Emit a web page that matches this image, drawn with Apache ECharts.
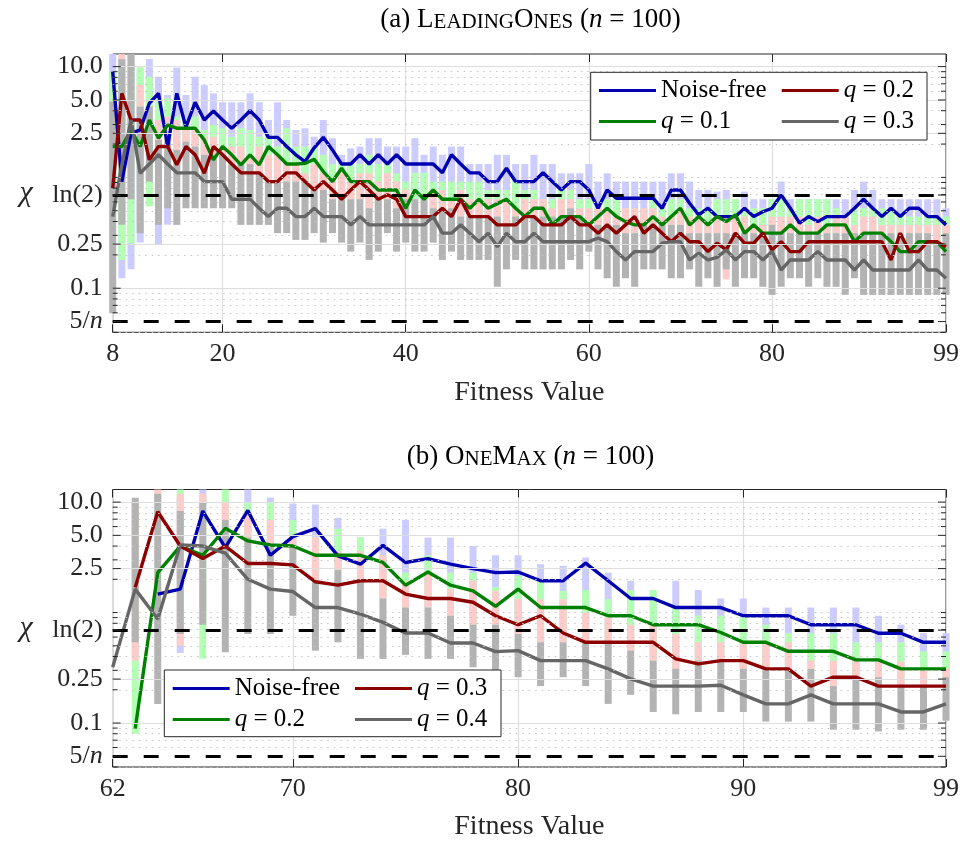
<!DOCTYPE html>
<html>
<head>
<meta charset="utf-8">
<script src="https://cdn.jsdelivr.net/npm/echarts@6/dist/echarts.min.js"></script>
<style>
  html, body { margin: 0; padding: 0; background: #fff; }
  #chart-container { width: 962px; height: 842px; }
</style>
</head>
<body>
<div id="chart-container"></div>
<script>
var dom = document.getElementById('chart-container');
var myChart = echarts.init(dom, null, { renderer: 'canvas', useDirtyRect: false });

var FONT = 'Liberation Serif';
var INK = '#262626';

// ---------- (a) LeadingOnes, n = 100 ----------
var fitA = [8, 9, 10, 11, 12, 13, 14, 15, 16, 17,
  18, 19, 20, 21, 22, 23, 24, 25, 26, 27,
  28, 29, 30, 31, 32, 33, 34, 35, 36, 37,
  38, 39, 40, 41, 42, 43, 44, 45, 46, 47,
  48, 49, 50, 51, 52, 53, 54, 55, 56, 57,
  58, 59, 60, 61, 62, 63, 64, 65, 66, 67,
  68, 69, 70, 71, 72, 73, 74, 75, 76, 77,
  78, 79, 80, 81, 82, 83, 84, 85, 86, 87,
  88, 89, 90, 91, 92, 93, 94, 95, 96, 97,
  98, 99];

// median chi per fitness value
var nfA = [9.0, 0.917, 2.5, 2.69, 4.67, 5.74, 1.9, 5.74, 2.84, 4.77,
  3.3, 3.98, 3.3, 2.78, 3.3, 4.0, 3.3, 2.3, 2.3, 1.9,
  1.6, 1.39, 1.85, 2.3, 1.77, 1.32, 1.32, 1.6, 1.32, 1.6,
  1.32, 1.6, 1.32, 1.32, 1.32, 1.32, 1.1, 1.6, 1.32, 1.1,
  1.1, 0.917, 0.917, 1.21, 0.917, 0.917, 0.917, 1.1, 0.917, 0.771,
  0.917, 0.917, 0.771, 0.527, 0.771, 0.649, 0.649, 0.649, 0.649, 0.649,
  0.527, 0.771, 0.771, 0.585, 0.459, 0.527, 0.443, 0.443, 0.443, 0.527,
  0.443, 0.49, 0.527, 0.695, 0.527, 0.386, 0.443, 0.399, 0.443, 0.443,
  0.443, 0.527, 0.636, 0.527, 0.443, 0.527, 0.443, 0.527, 0.527, 0.443,
  0.443, 0.373];
var q1A = [1.9, 1.9, 2.68, 1.9, 3.3, 2.26, 2.97, 2.78, 2.78, 2.78,
  2.18, 1.44, 1.9, 1.6, 1.3, 1.6, 1.3, 1.9, 1.6, 1.32,
  1.32, 1.34, 1.46, 1.13, 0.917, 1.21, 0.917, 0.917, 0.917, 0.771,
  0.771, 0.771, 0.527, 0.771, 0.636, 0.771, 0.636, 0.636, 0.636, 0.527,
  0.636, 0.527, 0.58, 0.636, 0.527, 0.443, 0.527, 0.527, 0.373, 0.443,
  0.443, 0.443, 0.373, 0.443, 0.527, 0.443, 0.399, 0.373, 0.373, 0.443,
  0.373, 0.443, 0.527, 0.373, 0.443, 0.373, 0.443, 0.399, 0.459, 0.314,
  0.373, 0.314, 0.314, 0.314, 0.373, 0.314, 0.314, 0.314, 0.373, 0.373,
  0.373, 0.263, 0.314, 0.314, 0.314, 0.263, 0.214, 0.214, 0.263, 0.263,
  0.263, 0.214];
var q2A = [0.798, 5.74, 3.3, 3.3, 1.44, 1.9, 1.9, 1.3, 1.9, 1.6,
  1.09, 1.9, 1.6, 1.32, 1.1, 1.1, 1.1, 0.917, 0.917, 1.1,
  1.1, 0.917, 0.771, 0.917, 0.771, 0.636, 0.771, 0.917, 0.771, 0.636,
  0.697, 0.636, 0.443, 0.443, 0.443, 0.443, 0.527, 0.443, 0.636, 0.443,
  0.443, 0.443, 0.373, 0.373, 0.373, 0.443, 0.443, 0.373, 0.373, 0.373,
  0.443, 0.373, 0.373, 0.314, 0.373, 0.314, 0.373, 0.443, 0.314, 0.373,
  0.314, 0.263, 0.314, 0.263, 0.263, 0.214, 0.255, 0.222, 0.314, 0.255,
  0.255, 0.314, 0.222, 0.263, 0.214, 0.214, 0.263, 0.263, 0.263, 0.263,
  0.263, 0.263, 0.263, 0.263, 0.263, 0.18, 0.314, 0.214, 0.214, 0.263,
  0.263, 0.237];
var q3A = [0.443, 1.3, 3.3, 1.09, 1.32, 1.6, 1.32, 1.1, 1.1, 1.1,
  0.917, 0.917, 0.917, 0.636, 0.636, 0.636, 0.527, 0.443, 0.527, 0.527,
  0.443, 0.443, 0.527, 0.443, 0.443, 0.443, 0.373, 0.443, 0.373, 0.373,
  0.373, 0.373, 0.373, 0.373, 0.373, 0.443, 0.314, 0.314, 0.373, 0.314,
  0.263, 0.314, 0.237, 0.314, 0.263, 0.263, 0.314, 0.263, 0.263, 0.263,
  0.263, 0.263, 0.263, 0.283, 0.263, 0.214, 0.18, 0.214, 0.214, 0.214,
  0.255, 0.263, 0.263, 0.18, 0.207, 0.18, 0.19, 0.222, 0.18, 0.214,
  0.214, 0.18, 0.214, 0.146, 0.18, 0.18, 0.18, 0.214, 0.18, 0.18,
  0.18, 0.146, 0.18, 0.146, 0.146, 0.146, 0.146, 0.146, 0.18, 0.146,
  0.146, 0.123];

// upper ends of the spread bars
var nfHiA = [14, 12, 12, 9, 11.7, 8.1, 5.55, 9.8, 5.55, 8.1,
  6.82, 5.74, 4.77, 4.77, 4.77, 5.74, 4.77, 3.3, 4.77, 3.3,
  2.68, 2.78, 2.33, 3.3, 2.26, 1.6, 1.83, 1.9, 2.26, 2.26,
  1.9, 1.9, 1.9, 2.26, 1.6, 1.9, 1.6, 1.9, 1.9, 1.32,
  1.32, 1.32, 1.6, 1.6, 1.32, 1.32, 1.6, 1.32, 1.32, 1.09,
  1.09, 1.09, 1.32, 0.917, 1.09, 0.917, 0.917, 0.917, 0.917, 0.917,
  0.917, 1.09, 1.09, 0.917, 0.771, 0.771, 0.745, 0.771, 0.636, 0.745,
  0.636, 0.636, 0.636, 0.917, 0.636, 0.636, 0.636, 0.636, 0.636, 0.636,
  0.636, 0.771, 0.917, 0.771, 0.636, 0.636, 0.636, 0.636, 0.636, 0.636,
  0.636, 0.527];
var q1HiA = [9.0, 10, 10, 9.86, 8.1, 5.18, 5.18, 3.54, 3.3, 3.54,
  2.68, 2.97, 2.78, 2.33, 2.78, 2.68, 2.33, 2.33, 1.9, 2.78,
  1.9, 1.9, 1.9, 1.6, 1.32, 1.32, 1.32, 1.32, 1.6, 1.32,
  1.32, 1.09, 0.917, 1.1, 1.1, 0.917, 0.917, 0.917, 0.917, 0.917,
  0.917, 0.771, 0.771, 0.771, 0.917, 0.771, 0.771, 0.636, 0.636, 0.771,
  0.771, 0.636, 0.636, 0.527, 0.636, 0.636, 0.527, 0.527, 0.527, 0.636,
  0.527, 0.636, 0.636, 0.527, 0.527, 0.527, 0.636, 0.636, 0.636, 0.527,
  0.527, 0.527, 0.636, 0.636, 0.527, 0.636, 0.636, 0.636, 0.636, 0.527,
  0.443, 0.527, 0.527, 0.527, 0.527, 0.527, 0.443, 0.443, 0.443, 0.443,
  0.443, 0.443];
var q2HiA = [4.5, 14, 12, 6.82, 4.35, 3.3, 3.54, 3.3, 2.68, 2.78,
  2.33, 2.33, 1.9, 1.9, 1.9, 1.6, 1.9, 1.6, 1.6, 1.32,
  1.32, 1.09, 1.32, 1.1, 0.917, 1.1, 0.917, 1.09, 1.09, 0.917,
  1.09, 0.917, 0.771, 0.636, 0.636, 0.771, 0.771, 0.636, 0.771, 0.636,
  0.636, 0.636, 0.636, 0.636, 0.527, 0.636, 0.636, 0.636, 0.527, 0.636,
  0.636, 0.527, 0.527, 0.527, 0.527, 0.443, 0.527, 0.527, 0.527, 0.527,
  0.443, 0.443, 0.527, 0.443, 0.443, 0.373, 0.443, 0.443, 0.443, 0.443,
  0.373, 0.373, 0.443, 0.443, 0.443, 0.443, 0.373, 0.443, 0.373, 0.443,
  0.443, 0.373, 0.443, 0.443, 0.373, 0.373, 0.373, 0.373, 0.373, 0.373,
  0.373, 0.373];
var q3HiA = [4.84, 11.66, 14, 4.35, 4.35, 2.18, 2.1, 1.77, 2.1, 1.9,
  1.6, 1.6, 1.6, 1.32, 1.32, 1.32, 1.1, 0.917, 0.917, 0.917,
  0.917, 0.917, 0.771, 0.771, 0.636, 0.636, 0.636, 0.636, 0.527, 0.636,
  0.636, 0.527, 0.636, 0.636, 0.636, 0.527, 0.527, 0.527, 0.443, 0.443,
  0.443, 0.443, 0.443, 0.373, 0.443, 0.443, 0.443, 0.443, 0.443, 0.443,
  0.527, 0.443, 0.373, 0.373, 0.373, 0.373, 0.314, 0.314, 0.373, 0.373,
  0.373, 0.373, 0.373, 0.314, 0.314, 0.314, 0.314, 0.314, 0.314, 0.314,
  0.314, 0.314, 0.373, 0.314, 0.314, 0.314, 0.314, 0.314, 0.314, 0.314,
  0.314, 0.314, 0.314, 0.314, 0.314, 0.314, 0.314, 0.314, 0.314, 0.314,
  0.263, 0.314];
var q3LoA = [0.0594, 0.373, 0.636, 0.314, 0.917, 0.373, 0.527, 0.373, 0.527, 0.527,
  0.527, 0.527, 0.527, 0.527, 0.373, 0.373, 0.373, 0.373, 0.314, 0.314,
  0.273, 0.273, 0.314, 0.258, 0.314, 0.258, 0.214, 0.258, 0.18, 0.214,
  0.314, 0.214, 0.258, 0.214, 0.214, 0.258, 0.18, 0.214, 0.18, 0.18,
  0.18, 0.18, 0.103, 0.148, 0.18, 0.148, 0.148, 0.148, 0.148, 0.148,
  0.18, 0.148, 0.214, 0.148, 0.123, 0.103, 0.123, 0.103, 0.148, 0.148,
  0.148, 0.123, 0.123, 0.148, 0.103, 0.123, 0.103, 0.148, 0.103, 0.123,
  0.123, 0.103, 0.087, 0.103, 0.123, 0.123, 0.103, 0.123, 0.103, 0.103,
  0.087, 0.123, 0.087, 0.087, 0.087, 0.087, 0.087, 0.087, 0.087, 0.087,
  0.087, 0.087];
// lower ends that show below the grey bar (keyed by fitness value);
// everywhere else the lower end is hidden under the grey bar
var nfLoA = { 9: 0.123, 10: 0.148, 11: 0.258, 13: 0.246, 14: 0.373 };
var q1LoA = { 9: 0.18, 10: 0.254, 12: 0.545 };
var q2LoA = { 75: 0.12 };

// ---------- (b) OneMax, n = 100 ----------
var fitB = [62, 63, 64, 65, 66, 67, 68, 69, 70, 71,
  72, 73, 74, 75, 76, 77, 78, 79, 80, 81,
  82, 83, 84, 85, 86, 87, 88, 89, 90, 91,
  92, 93, 94, 95, 96, 97, 98, 99];
var nfB = [null, null, 1.47, 1.63, 8.3, 3.87, 8.4, 3.3, 4.87, 5.75,
  3.26, 2.74, 4.06, 2.84, 3.08, 2.74, 2.5, 2.3, 2.33, 1.94,
  1.94, 2.8, 1.94, 1.34, 1.34, 1.11, 1.11, 1.11, 0.936, 0.936,
  0.936, 0.776, 0.776, 0.776, 0.65, 0.65, 0.538, 0.538];
var q2B = [null, 0.089, 2.3, 4.0, 3.3, 5.8, 4.45, 4.09, 4.0, 3.3,
  3.3, 3.3, 2.84, 1.77, 2.33, 1.77, 1.57, 1.14, 1.63, 1.11,
  1.11, 1.11, 0.936, 0.936, 0.776, 0.776, 0.776, 0.66, 0.538, 0.538,
  0.446, 0.446, 0.446, 0.373, 0.373, 0.309, 0.309, 0.309];
var q3B = [null, 1.69, 8.18, 4.0, 3.08, 4.0, 2.78, 2.78, 2.7, 1.9,
  1.77, 1.94, 1.94, 1.47, 1.34, 1.34, 1.24, 0.936, 0.776, 0.936,
  0.653, 0.538, 0.538, 0.538, 0.538, 0.381, 0.343, 0.367, 0.367, 0.309,
  0.309, 0.216, 0.26, 0.26, 0.216, 0.216, 0.216, 0.216];
var q4B = [0.32, 1.63, 0.874, 4.09, 4.0, 3.45, 2.0, 1.63, 1.55, 1.11,
  1.11, 0.97, 0.815, 0.653, 0.653, 0.53, 0.53, 0.443, 0.452, 0.367,
  0.367, 0.367, 0.309, 0.251, 0.216, 0.216, 0.216, 0.22, 0.18, 0.149,
  0.149, 0.18, 0.149, 0.149, 0.149, 0.126, 0.126, 0.149];

var nfHiB = [null, null, 10, 11, 14, 11, 14, 11, 9.7, 9.5,
  7.2, 4.8, 5.75, 6.9, 4.77, 4.77, 4.0, 3.3, 3.3, 2.74,
  2.65, 3.15, 2.3, 1.94, 1.5, 1.94, 1.6, 1.34, 1.34, 1.11,
  1.11, 1.11, 1.11, 1.11, 0.936, 0.776, 0.65, 0.65];
var q2HiB = [null, 10, 11, 14, 11, 14, 9.86, 9.86, 6.9, 4.8,
  5.75, 4.8, 3.3, 2.3, 3.3, 2.3, 2.3, 1.7, 2.15, 1.94,
  1.57, 1.6, 1.32, 1.6, 1.6, 1.09, 0.94, 0.936, 0.9, 0.776,
  0.65, 0.65, 0.65, 0.538, 0.538, 0.538, 0.446, 0.446];
var q3HiB = [null, 10, 14, 11.9, 11.9, 9.86, 8.1, 6.9, 4.77, 4.8,
  3.6, 3.6, 3.3, 1.9, 2.33, 1.63, 1.94, 1.57, 1.32, 1.32,
  1.32, 1.0, 0.9, 0.776, 0.776, 0.64, 0.538, 0.538, 0.52, 0.52,
  0.538, 0.367, 0.367, 0.367, 0.36, 0.36, 0.3, 0.309];
var q4HiB = [null, 10.96, 11.9, 8.3, 9.86, 6.9, 4.77, 4.0, 4.0, 1.88,
  2.43, 2.0, 1.34, 1.11, 1.11, 0.936, 0.776, 0.776, 0.64, 0.538,
  0.538, 0.538, 0.538, 0.452, 0.367, 0.31, 0.367, 0.367, 0.309, 0.3,
  0.3, 0.309, 0.216, 0.25, 0.26, 0.216, 0.216, 0.26];
var q4LoB = [null, 0.538, 0.149, 0.64, 0.776, 0.437, 0.64, 0.64, 0.936, 0.452,
  0.538, 0.381, 0.381, 0.414, 0.381, 0.381, 0.32, 0.27, 0.26, 0.216,
  0.26, 0.216, 0.149, 0.18, 0.126, 0.12, 0.126, 0.126, 0.126, 0.103,
  0.103, 0.103, 0.087, 0.087, 0.084, 0.087, 0.087, 0.105];
var nfLoB = { 65: 0.43 };
var q2LoB = { 63: 0.08, 66: 0.381 };
var q3LoB = { 63: 0.367, 65: 0.5 };

// ---------- axes ----------
var yTickVals = [0.05, 0.1, 0.25, Math.LN2, 2.5, 5, 10];
var yGridVals = [0.1, 0.25, 2.5, 5, 10];
var yGridText = ['0.1', '0.25', '2.5', '5.0', '10.0'];
var yMinorVals = [0.04, 0.06, 0.07, 0.08, 0.09, 0.2, 0.3, 0.4, 0.5, 0.6, 0.7, 0.8, 0.9, 1, 2, 3, 4, 6, 7, 8, 9];
var xTicksA = [8, 20, 40, 60, 80, 99];
var xTicksB = [62, 70, 80, 90, 99];

var LINE_COLORS = ['#0000b0', '#008000', '#8c0000', '#666666'];
var BAR_COLORS = ['#ccccff', '#b3ffb3', '#ffcccc', '#b3b3b3'];
var BAR_W = 7;

function linePts(xs, ys) {
  var out = [];
  xs.forEach(function (x, i) { if (ys[i] != null) out.push([x, ys[i]]); });
  return out;
}
function rangePts(xs, hi, loVisible, under) {
  var out = [];
  xs.forEach(function (x, i) {
    if (hi[i] == null) return;
    var lo = loVisible && loVisible[x] != null ? loVisible[x] : under[i];
    out.push([x, lo, hi[i]]);
  });
  return out;
}

function renderRange(params, api) {
  var cs = params.coordSys;
  var p1 = api.coord([api.value(0), api.value(1)]);
  var p2 = api.coord([api.value(0), api.value(2)]);
  var top = Math.max(Math.min(p1[1], p2[1]), cs.y);
  var bot = Math.min(Math.max(p1[1], p2[1]), cs.y + cs.height);
  if (bot <= top) return;
  return {
    type: 'rect',
    shape: { x: p1[0] - BAR_W / 2, y: top, width: BAR_W, height: bot - top },
    style: { fill: api.visual('color') }
  };
}
function renderTicks(params, api) {
  var cs = params.coordSys;
  var y = api.coord([api.value(0), api.value(1)])[1];
  var len = api.value(2);
  var st = { stroke: INK, lineWidth: 1 };
  return {
    type: 'group',
    children: [
      { type: 'line', shape: { x1: cs.x, y1: y, x2: cs.x + len, y2: y }, style: st },
      { type: 'line', shape: { x1: cs.x + cs.width - len, y1: y, x2: cs.x + cs.width, y2: y }, style: st }
    ]
  };
}

function panelSeries(g, xs, lines, his, los, grayLo, names) {
  var xi = g * 2, yi = g;
  var s = [];
  var gridLines = [];
  yGridVals.forEach(function (v, i) {
    gridLines.push({
      yAxis: v,
      lineStyle: { color: '#dedede', width: 1.2, type: 'solid' },
      label: { show: true, formatter: yGridText[i] }
    });
  });
  yMinorVals.forEach(function (v) {
    gridLines.push({ yAxis: v, lineStyle: { color: '#c4c4c4', width: 1, type: [1.5, 5] }, label: { show: false } });
  });
  s.push({
    type: 'line', name: 'grid' + g, xAxisIndex: xi, yAxisIndex: yi, data: [], z: 1, silent: true,
    markLine: {
      silent: true, symbol: ['none', 'none'], animation: false,
      label: { position: 'start', distance: 10, fontFamily: FONT, fontSize: 26, color: INK },
      data: gridLines
    }
  });
  var grayHi = his[3];
  for (var k = 0; k < 4; k++) {
    s.push({
      type: 'custom', name: 'spread' + g + k, xAxisIndex: xi, yAxisIndex: yi, z: 2, silent: true,
      color: BAR_COLORS[k],
      renderItem: renderRange,
      encode: { x: 0, y: [1, 2] },
      data: k < 3 ? rangePts(xs, his[k], los[k], grayHi) : rangePts(xs, grayHi, null, grayLo)
    });
  }
  s.push({
    type: 'line', name: 'ref' + g, xAxisIndex: xi, yAxisIndex: yi, data: [], z: 3, silent: true,
    markLine: {
      silent: true, symbol: ['none', 'none'], animation: false,
      lineStyle: { color: '#000', width: 3, type: [15, 16] },
      label: {
        position: 'start', distance: 10, fontFamily: FONT, fontSize: 26, color: INK,
        rich: { i: { fontFamily: FONT, fontSize: 26, fontStyle: 'italic', color: INK } }
      },
      data: [
        { yAxis: Math.LN2, label: { formatter: 'ln(2)' } },
        { yAxis: 0.05, label: { formatter: '5/{i|n}' } }
      ]
    }
  });
  for (var j = 0; j < 4; j++) {
    s.push({
      type: 'line', name: names[j], xAxisIndex: xi, yAxisIndex: yi, z: 4,
      color: LINE_COLORS[j], showSymbol: false, symbol: 'none', silent: true,
      lineStyle: { color: LINE_COLORS[j], width: 3.4 },
      data: linePts(xs, lines[j])
    });
  }
  var tickData = [];
  yTickVals.forEach(function (v) { tickData.push([xs[0], v, 8]); });
  yMinorVals.forEach(function (v) { tickData.push([xs[0], v, 5]); });
  s.push({
    type: 'custom', name: 'yticks' + g, xAxisIndex: xi, yAxisIndex: yi, z: 5, silent: true,
    renderItem: renderTicks, encode: { x: 0, y: 1 }, data: tickData
  });
  return s;
}

var namesA = ['Noise-free|a', 'q = 0.1|a', 'q = 0.2|a', 'q = 0.3|a'];
var namesB = ['Noise-free|b', 'q = 0.2|b', 'q = 0.3|b', 'q = 0.4|b'];

var series = [].concat(
  panelSeries(0, fitA, [nfA, q1A, q2A, q3A], [nfHiA, q1HiA, q2HiA, q3HiA], [nfLoA, q1LoA, q2LoA], q3LoA, namesA),
  panelSeries(1, fitB, [nfB, q2B, q3B, q4B], [nfHiB, q2HiB, q3HiB, q4HiB], [nfLoB, q2LoB, q3LoB], q4LoB, namesB)
);

function xAxes(g, lo, hi, ticks) {
  var base = {
    type: 'value', gridIndex: g, min: lo, max: hi,
    axisLine: { show: false },
    axisTick: { show: true, inside: true, length: 8, customValues: ticks, lineStyle: { color: INK, width: 1 } }
  };
  return [
    Object.assign({}, base, {
      position: 'bottom',
      axisLabel: { show: true, customValues: ticks, margin: 9, fontFamily: FONT, fontSize: 26, color: INK },
      splitLine: { show: true, lineStyle: { color: '#dedede', width: 1.2 } },
      name: 'Fitness Value', nameLocation: 'middle', nameGap: 46,
      nameTextStyle: { fontFamily: FONT, fontSize: 28, color: INK }
    }),
    Object.assign({}, base, {
      position: 'top', axisLabel: { show: false }, splitLine: { show: false }
    })
  ];
}
function yAxis(g) {
  return {
    type: 'log', gridIndex: g, logBase: 10, min: 0.04, max: 13,
    axisLine: { show: false }, axisTick: { show: false }, axisLabel: { show: false },
    splitLine: { show: false }, minorTick: { show: false },
    name: 'χ', nameLocation: 'middle', nameRotate: 0, nameGap: 80,
    nameTextStyle: { fontFamily: FONT, fontSize: 30, fontStyle: 'italic', color: INK }
  };
}

function legendText(name) {
  var s = name.split('|')[0];
  return s.charAt(0) === 'q' ? '{i|q}' + s.slice(1) : s;
}
function legend(data, left, top) {
  return {
    data: data, left: left, top: top, orient: 'vertical', z: 11,
    padding: 0, itemGap: 6, itemWidth: 57, itemHeight: 3, icon: 'rect',
    selectedMode: false, itemStyle: { borderWidth: 0 },
    formatter: legendText,
    textStyle: {
      fontFamily: FONT, fontSize: 25, color: '#000', lineHeight: 25,
      rich: { i: { fontFamily: FONT, fontSize: 25, fontStyle: 'italic', color: '#000', lineHeight: 25 } }
    }
  };
}

function titleText(x, y, text) {
  return {
    type: 'text', x: x, y: y, z: 12, silent: true,
    style: {
      text: text, fill: '#000', font: '27px "Liberation Serif"',
      fontFamily: FONT, fontSize: 27,
      align: 'center', verticalAlign: 'middle', textAlign: 'center', textVerticalAlign: 'middle',
      rich: {
        s: { fontFamily: FONT, fontSize: 21, fill: '#000', verticalAlign: 'bottom', padding: [0, 0, 1, 0] },
        i: { fontFamily: FONT, fontSize: 27, fontStyle: 'italic', fill: '#000' }
      }
    }
  };
}

var option = {
  backgroundColor: '#fff',
  animation: false,
  grid: [
    { left: 112.7, top: 54, width: 835.6, height: 278.3, show: true, borderColor: INK, borderWidth: 1, backgroundColor: '#fff' },
    { left: 112.7, top: 489.5, width: 835.6, height: 278.3, show: true, borderColor: INK, borderWidth: 1, backgroundColor: '#fff' }
  ],
  xAxis: [].concat(xAxes(0, 8, 99, xTicksA), xAxes(1, 62, 99, xTicksB)),
  yAxis: [yAxis(0), yAxis(1)],
  legend: [
    legend([namesA[0], namesA[1]], 599, 78),
    legend([namesA[2], namesA[3]], 781.7, 78),
    legend([namesB[0], namesB[1]], 172.7, 676),
    legend([namesB[2], namesB[3]], 355, 676)
  ],
  graphic: [
    { type: 'rect', z: 10, silent: true, shape: { x: 590.7, y: 72.3, width: 336.3, height: 67.7 },
      style: { fill: '#fff', stroke: INK, lineWidth: 1 } },
    { type: 'rect', z: 10, silent: true, shape: { x: 164.3, y: 670, width: 336.7, height: 66.7 },
      style: { fill: '#fff', stroke: INK, lineWidth: 1 } },
    titleText(530.5, 20, '(a) L{s|EADING}O{s|NES} ({i|n} = 100)'),
    titleText(530.5, 457, '(b) O{s|NE}M{s|AX} ({i|n} = 100)')
  ],
  series: series
};

if (option && typeof option === 'object') {
  myChart.setOption(option);
}

window.addEventListener('resize', myChart.resize);
</script>
</body>
</html>
